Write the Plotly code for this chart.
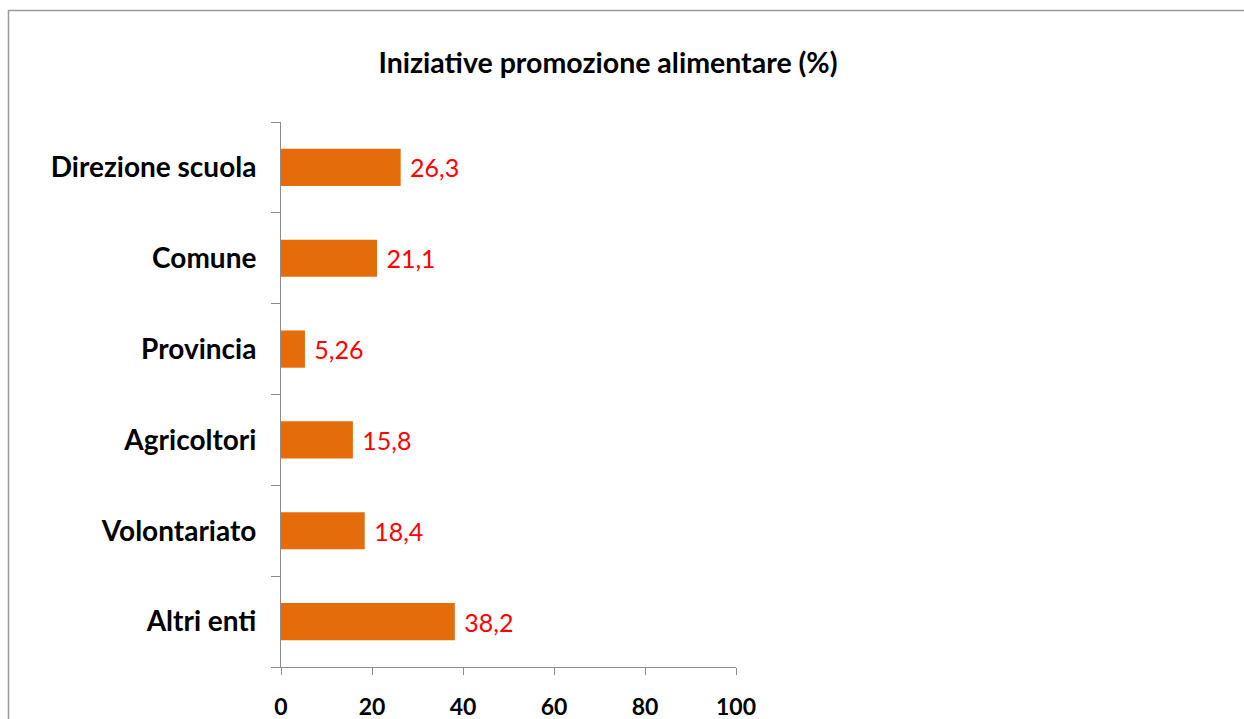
import plotly.graph_objects as go

# Data
categories = ['Direzione scuola', 'Comune', 'Provincia', 'Agricoltori', 'Volontariato', 'Altri enti']
values = [26.3, 21.1, 5.26, 15.8, 18.4, 38.2]
value_labels = ['26,3', '21,1', '5,26', '15,8', '18,4', '38,2']
x_ticks = [0, 20, 40, 60, 80, 100]

W, H = 1244, 719
L, R, T, B = 281, 508, 122, 52
FONT = 'Lato'
GRAY = '#8C8C8C'

fig = go.Figure(go.Bar(
    x=values, y=categories, orientation='h',
    marker=dict(color='#E46C0A', line=dict(width=0)),
    text=[' ' + t for t in value_labels], textposition='outside', cliponaxis=False,
    textfont=dict(family=FONT, size=25, color='#FF0000'),
    hoverinfo='skip',
))

# outer chart border (pixel box -> paper coordinates)
pw, ph = W - L - R, H - T - B
def px2x(p):
    return (p - L) / pw
def py2y(p):
    return (H - B - p) / ph

fig.add_shape(type='rect', xref='paper', yref='paper',
              x0=px2x(8.5), x1=px2x(1260), y0=py2y(735), y1=py2y(10.5),
              line=dict(color='#9A9A9A', width=1.5), layer='below')

fig.update_layout(
    width=W, height=H,
    margin=dict(l=L, r=R, t=T, b=B, autoexpand=False),
    plot_bgcolor='white', paper_bgcolor='white',
    bargap=0.59,
    showlegend=False,
    title=dict(text='<b>Iniziative promozione alimentare (%)</b>',
               x=608 / W, xanchor='center', y=1 - 63 / H, yanchor='middle',
               font=dict(family=FONT, size=28.5, color='black')),
)

fig.update_xaxes(
    range=[0, 100], tickvals=x_ticks, ticktext=[f'<b>{v}</b>' for v in x_ticks],
    showline=True, linecolor=GRAY, linewidth=1,
    ticks='outside', ticklen=7, tickcolor=GRAY, tickwidth=1,
    ticklabelstandoff=12, automargin=False,
    showgrid=False, zeroline=False,
    tickfont=dict(family=FONT, size=23, color='black'),
)

fig.update_yaxes(
    categoryorder='array', categoryarray=categories, autorange='reversed',
    tickvals=categories, ticktext=[f'<b>{c}</b>' for c in categories],
    showline=True, linecolor=GRAY, linewidth=1,
    ticks='outside', tickson='boundaries', ticklen=9, tickcolor=GRAY, tickwidth=1,
    ticklabelstandoff=18, automargin=False,
    showgrid=False, zeroline=False,
    tickfont=dict(family=FONT, size=28, color='black'),
)

fig.write_html('out.html', config={'displayModeBar': False},
               post_script="document.body.style.margin='0';")
